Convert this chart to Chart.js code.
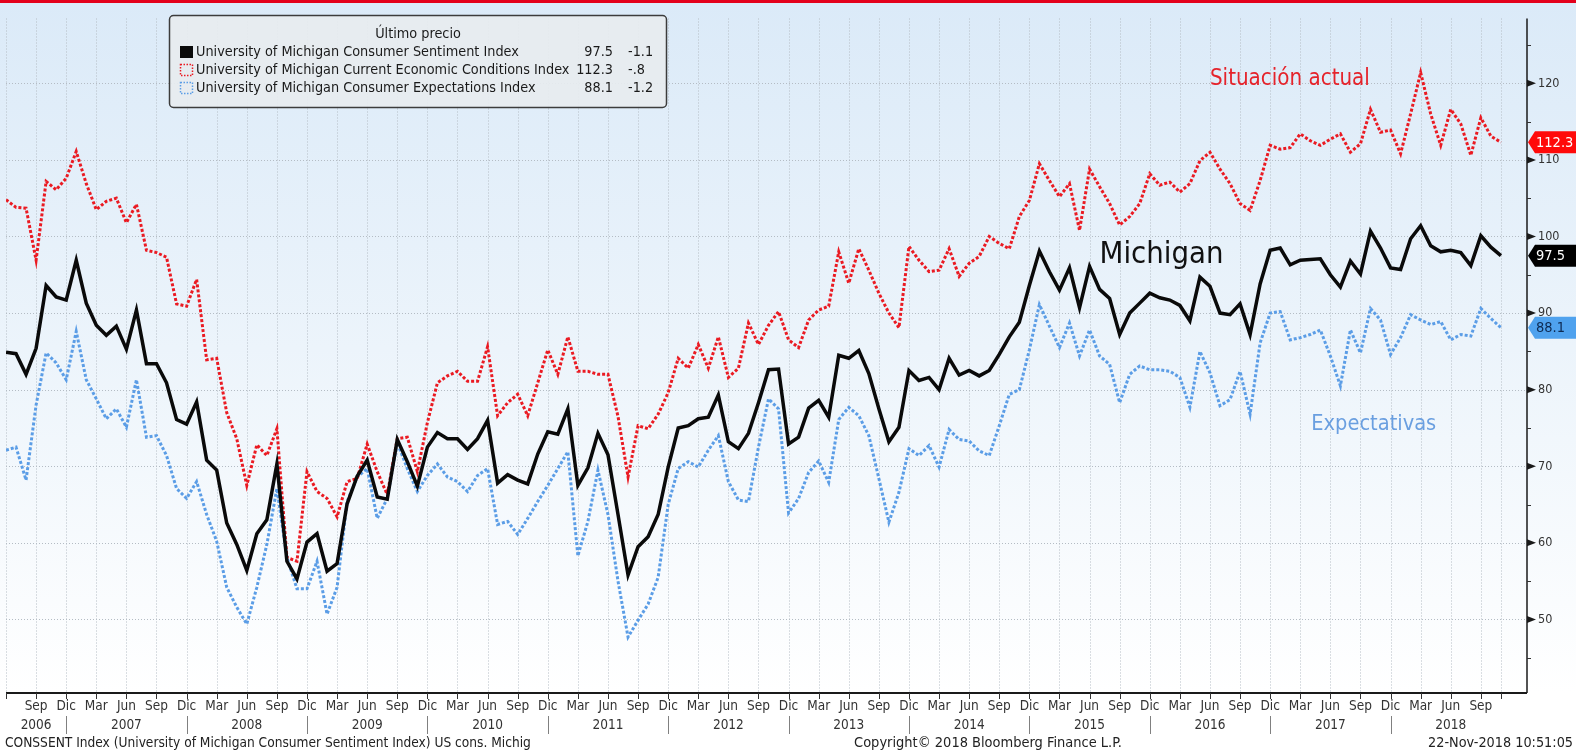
<!DOCTYPE html>
<html lang="es">
<head>
<meta charset="UTF-8">
<title>University of Michigan Consumer Sentiment</title>
<script src="https://cdn.jsdelivr.net/npm/chart.js@4"></script>
<style>
  html, body { margin: 0; padding: 0; background: #fff; }
  #wrap { width: 1576px; height: 751px; }
</style>
</head>
<body>
<div id="wrap"><canvas id="chart" width="1576" height="751"></canvas></div>
<script>
// monthly readings, Jun 2006 .. Nov 2018
const startYear = 2006;
const startMonth = 5; // junio (0 = enero)
const monthNames = ['Ene', 'Feb', 'Mar', 'Abr', 'May', 'Jun', 'Jul', 'Ago', 'Sep', 'Oct', 'Nov', 'Dic'];
const tickMonths = ['Sep', 'Dic', 'Mar', 'Jun'];
const years = [2006, 2007, 2008, 2009, 2010, 2011, 2012, 2013, 2014, 2015, 2016, 2017, 2018];

const sentiment = [
  84.9, 84.7, 82.0, 85.4, 93.6, 92.1, 91.7,
  96.9, 91.3, 88.4, 87.1, 88.3, 85.3, 90.4, 83.4, 83.4, 80.9, 76.1, 75.5,
  78.4, 70.8, 69.5, 62.6, 59.8, 56.4, 61.2, 63.0, 70.3, 57.6, 55.3, 60.1,
  61.2, 56.3, 57.3, 65.1, 68.7, 70.8, 66.0, 65.7, 73.5, 70.6, 67.4, 72.5,
  74.4, 73.6, 73.6, 72.2, 73.6, 76.0, 67.8, 68.9, 68.2, 67.7, 71.6, 74.5,
  74.2, 77.5, 67.5, 69.8, 74.3, 71.5, 63.7, 55.8, 59.5, 60.8, 63.7, 69.9,
  75.0, 75.3, 76.2, 76.4, 79.3, 73.2, 72.3, 74.3, 78.3, 82.6, 82.7, 72.9,
  73.8, 77.6, 78.6, 76.4, 84.5, 84.1, 85.1, 82.1, 77.5, 73.2, 75.1, 82.5,
  81.2, 81.6, 80.0, 84.1, 81.9, 82.5, 81.8, 82.5, 84.6, 86.9, 88.8, 93.6,
  98.1, 95.4, 93.0, 95.9, 90.7, 96.1, 93.1, 91.9, 87.2, 90.0, 91.3, 92.6,
  92.0, 91.7, 91.0, 89.0, 94.7, 93.5, 90.0, 89.8, 91.2, 87.2, 93.8, 98.2,
  98.5, 96.3, 96.9, 97.0, 97.1, 95.0, 93.4, 96.8, 95.1, 100.7, 98.5, 95.9,
  95.7, 99.7, 101.4, 98.8, 98.0, 98.2, 97.9, 96.2, 100.1, 98.6, 97.5
];

const currentCond = [
  104.8, 103.8, 103.7, 96.9, 107.2, 106.1, 107.6,
  111.1, 106.9, 103.5, 104.6, 105.0, 101.8, 104.2, 98.2, 97.9, 97.3, 91.2, 90.9,
  94.4, 83.9, 84.1, 77.0, 73.6, 67.5, 72.8, 71.4, 74.9, 58.1, 57.6, 69.3,
  66.7, 65.8, 63.4, 68.0, 68.4, 72.9, 69.3, 66.3, 73.6, 73.8, 69.3, 75.7,
  80.9, 81.8, 82.4, 81.1, 81.1, 85.6, 76.6, 78.3, 79.4, 76.6, 80.9, 85.2,
  82.0, 86.9, 82.4, 82.4, 82.0, 82.0, 76.5, 68.6, 75.3, 74.9, 76.8, 79.6,
  84.1, 82.8, 85.9, 82.8, 86.9, 81.6, 82.8, 88.7, 85.9, 88.4, 90.2, 86.5,
  85.5, 89.1, 90.4, 90.9, 98.0, 93.9, 98.4, 95.6, 92.6, 90.0, 88.1, 98.7,
  96.9, 95.4, 95.6, 98.4, 94.8, 96.5, 97.4, 100.0, 99.1, 98.4, 102.6, 104.7,
  109.5, 107.3, 105.2, 106.9, 100.8, 108.8, 106.5, 104.3, 101.5, 102.6, 104.3, 108.2,
  106.7, 107.1, 105.8, 106.9, 109.9, 111.0, 108.8, 106.9, 104.3, 103.4, 107.3, 111.9,
  111.4, 111.6, 113.4, 112.5, 111.9, 112.7, 113.4, 111.0, 112.1, 116.6, 113.6, 113.9,
  110.8, 116.0, 121.4, 116.0, 111.9, 116.6, 114.7, 110.6, 115.5, 113.1, 112.3
];

const expectations = [
  72.1, 72.5, 68.2, 78.0, 84.8, 83.5, 81.3,
  87.6, 81.3, 78.8, 76.2, 77.5, 75.1, 81.3, 73.8, 74.0, 71.4, 67.1, 65.8,
  68.0, 63.7, 60.2, 54.2, 51.6, 49.4, 54.2, 59.8, 67.1, 58.1, 54.0, 54.0,
  57.6, 50.7, 54.2, 65.4, 68.6, 69.7, 63.2, 65.8, 73.1, 69.7, 66.7, 68.8,
  70.3, 68.6, 68.0, 66.7, 68.8, 69.7, 62.4, 62.8, 61.1, 63.2, 65.4, 67.5,
  69.7, 71.9, 58.3, 62.8, 69.5, 63.7, 55.0, 47.7, 49.9, 52.0, 55.5, 65.0,
  69.7, 70.6, 69.9, 72.1, 74.0, 68.0, 65.6, 65.4, 72.5, 78.8, 77.5, 63.9,
  65.8, 69.2, 70.7, 67.9, 76.1, 77.7, 76.6, 74.0, 68.4, 62.7, 66.6, 72.3,
  71.4, 72.7, 69.9, 74.8, 73.5, 73.3, 72.0, 71.4, 75.3, 79.4, 80.0, 85.2,
  91.1, 88.3, 85.5, 88.7, 84.4, 87.8, 84.4, 83.3, 78.3, 82.0, 83.1, 82.6,
  82.6, 82.4, 81.6, 77.7, 85.0, 82.2, 77.9, 78.7, 82.4, 76.8, 86.1, 90.0,
  90.2, 86.5, 86.8, 87.2, 87.8, 84.4, 80.5, 87.8, 84.8, 90.6, 89.1, 84.6,
  86.8, 89.8, 89.1, 88.5, 88.9, 86.5, 87.2, 87.0, 90.6, 89.3, 88.1
];

// legend table
const seriesNames = [
  'University of Michigan Consumer Sentiment Index',
  'University of Michigan Current Economic Conditions Index',
  'University of Michigan Consumer Expectations Index'
];
const lastPrice = ['97.5', '112.3', '88.1'];
const netChange = ['-1.1', '-.8', '-1.2'];
const colors = ['#0a0a0a', '#ea1a22', '#5b9de6'];

const FONT = '"DejaVu Sans Condensed", "DejaVu Sans", sans-serif';
const lastIdx = sentiment.length - 1;

function fitSize(ctx, text, width) {
  ctx.font = '100px ' + FONT;
  return 100 * width / ctx.measureText(text).width;
}

// quarter ticks (Sep, Dic, Mar, Jun) plus the last reading
const tickIdx = [];
for (let i = 0; i <= lastIdx; i++) {
  if (tickMonths.includes(monthNames[(startMonth + i) % 12])) tickIdx.push(i);
}
tickIdx.push(lastIdx);

function decIndex(year) {
  return (year - startYear) * 12 + (11 - startMonth);
}

const bbg = {
  id: 'bbg',
  beforeDraw(chart) {
    const {ctx, chartArea: a, width, height} = chart;
    const xs = chart.scales.x, ys = chart.scales.y;
    ctx.save();
    ctx.fillStyle = '#fff';
    ctx.fillRect(0, 0, width, height);
    const g = ctx.createLinearGradient(0, 3, 0, a.bottom);
    g.addColorStop(0, '#dbeaf8');
    g.addColorStop(0.5, '#ecf4fb');
    g.addColorStop(1, '#ffffff');
    ctx.fillStyle = g;
    ctx.fillRect(0, 3, width, a.bottom - 3);
    ctx.fillStyle = '#e3001b';
    ctx.fillRect(0, 0, width, 3);

    // dotted grid
    ctx.strokeStyle = '#b4bcc4';
    ctx.lineWidth = 1;
    ctx.setLineDash([1, 2]);
    tickIdx.forEach(v => {
      const px = Math.round(xs.getPixelForValue(v)) + 0.5;
      ctx.beginPath();
      ctx.moveTo(px, a.top);
      ctx.lineTo(px, a.bottom);
      ctx.stroke();
    });
    ys.ticks.forEach(t => {
      if (t.value % 10 !== 0) return;
      const py = Math.round(ys.getPixelForValue(t.value)) + 0.5;
      ctx.beginPath();
      ctx.moveTo(a.left, py);
      ctx.lineTo(a.right, py);
      ctx.stroke();
    });
    ctx.restore();
  },
  afterDraw(chart) {
    const {ctx, chartArea: a, width} = chart;
    const xs = chart.scales.x, ys = chart.scales.y;
    ctx.save();

    // axes
    ctx.strokeStyle = '#1a1a1a';
    ctx.lineWidth = 2;
    ctx.beginPath();
    ctx.moveTo(a.left, a.bottom);
    ctx.lineTo(a.right, a.bottom);
    ctx.stroke();
    ctx.lineWidth = 1.5;
    ctx.beginPath();
    ctx.moveTo(a.right, a.top);
    ctx.lineTo(a.right, a.bottom);
    ctx.stroke();

    ctx.lineWidth = 1;
    ctx.strokeStyle = '#333';
    tickIdx.forEach(v => {
      const px = Math.round(xs.getPixelForValue(v)) + 0.5;
      ctx.beginPath();
      ctx.moveTo(px, a.bottom);
      ctx.lineTo(px, a.bottom + 6);
      ctx.stroke();
    });
    ctx.fillStyle = '#1a1a1a';
    ys.ticks.forEach(t => {
      const py = ys.getPixelForValue(t.value);
      if (t.value % 10 === 0) {
        ctx.beginPath();
        ctx.moveTo(a.right, py - 3.5);
        ctx.lineTo(a.right + 9, py);
        ctx.lineTo(a.right, py + 3.5);
        ctx.closePath();
        ctx.fill();
      } else {
        ctx.beginPath();
        ctx.moveTo(a.right, Math.round(py) + 0.5);
        ctx.lineTo(a.right + 4, Math.round(py) + 0.5);
        ctx.stroke();
      }
    });

    // year row
    ctx.font = '13.5px ' + FONT;
    ctx.fillStyle = '#333';
    ctx.textAlign = 'center';
    ctx.textBaseline = 'middle';
    years.forEach(y => {
      const x0 = Math.max(a.left, xs.getPixelForValue(decIndex(y - 1)));
      const x1 = Math.min(a.right, xs.getPixelForValue(decIndex(y)));
      ctx.fillText(String(y), (x0 + x1) / 2, 725);
    });
    ctx.strokeStyle = '#808080';
    years.slice(0, -1).forEach(y => {
      const px = Math.round(xs.getPixelForValue(decIndex(y))) + 0.5;
      ctx.beginPath();
      ctx.moveTo(px, 716);
      ctx.lineTo(px, 734);
      ctx.stroke();
    });

    // footer
    const footL = 'CONSSENT Index (University of Michigan Consumer Sentiment Index) US cons. Michig';
    const footC = 'Copyright\u00a9 2018 Bloomberg Finance L.P.';
    const footR = '22-Nov-2018 10:51:05';
    ctx.fillStyle = '#222';
    ctx.font = fitSize(ctx, footL, 526) + 'px ' + FONT;
    ctx.textAlign = 'left';
    ctx.fillText(footL, 5, 743);
    ctx.font = fitSize(ctx, footC, 268) + 'px ' + FONT;
    ctx.textAlign = 'center';
    ctx.fillText(footC, 988, 743);
    ctx.font = fitSize(ctx, footR, 145) + 'px ' + FONT;
    ctx.textAlign = 'right';
    ctx.fillText(footR, 1573, 743);

    // last price tags
    const tags = [
      {v: currentCond[lastIdx], fill: '#ff0a0a', text: '#fff'},
      {v: sentiment[lastIdx], fill: '#000', text: '#fff'},
      {v: expectations[lastIdx], fill: '#4fa2ee', text: '#0d2a52'}
    ];
    ctx.font = '14.5px ' + FONT;
    ctx.textAlign = 'left';
    ctx.textBaseline = 'middle';
    tags.forEach(t => {
      const py = ys.getPixelForValue(t.v);
      ctx.beginPath();
      ctx.moveTo(a.right + 1, py);
      ctx.lineTo(a.right + 8, py - 11);
      ctx.lineTo(width, py - 11);
      ctx.lineTo(width, py + 11);
      ctx.lineTo(a.right + 8, py + 11);
      ctx.closePath();
      ctx.fillStyle = t.fill;
      ctx.fill();
      ctx.fillStyle = t.text;
      ctx.fillText(t.v.toFixed(1), a.right + 9, py + 1);
    });

    // in-chart labels, anchored on the scales
    const note = (text, idx, val, color, w) => {
      const s = fitSize(ctx, text, w);
      ctx.font = s + 'px ' + FONT;
      ctx.fillStyle = color;
      ctx.textAlign = 'left';
      ctx.textBaseline = 'alphabetic';
      ctx.fillText(text, xs.getPixelForValue(idx), ys.getPixelForValue(val));
    };
    note('Situaci\u00f3n actual', 120.0, 119.8, '#e5232b', 160);
    note('Michigan', 109.0, 96.6, '#111', 124);
    note('Expectativas', 130.1, 74.8, '#6a9fe0', 125);

    // legend box
    ctx.beginPath();
    ctx.roundRect(169.5, 15.5, 497, 92, 4);
    ctx.fillStyle = 'rgba(231,235,239,0.92)';
    ctx.fill();
    ctx.strokeStyle = '#3c3c3c';
    ctx.lineWidth = 1.5;
    ctx.stroke();

    const ls = fitSize(ctx, seriesNames[1], 374);
    ctx.font = ls + 'px ' + FONT;
    ctx.fillStyle = '#1a1a1a';
    ctx.textBaseline = 'middle';
    ctx.textAlign = 'center';
    ctx.fillText('\u00daltimo precio', 418, 34);
    const rowY = [52, 70, 88];
    seriesNames.forEach((name, k) => {
      const y = rowY[k];
      if (k === 0) {
        ctx.fillStyle = colors[0];
        ctx.fillRect(180, y - 6, 13, 12);
      } else {
        ctx.setLineDash([1.5, 1.5]);
        ctx.strokeStyle = colors[k];
        ctx.lineWidth = 1.5;
        ctx.strokeRect(180.5, y - 5.5, 12, 11);
        ctx.setLineDash([]);
      }
      ctx.fillStyle = '#1a1a1a';
      ctx.textAlign = 'left';
      ctx.fillText(name, 196, y);
      ctx.textAlign = 'right';
      ctx.fillText(lastPrice[k], 613, y);
      ctx.textAlign = 'left';
      ctx.fillText(netChange[k], 628, y);
    });
    ctx.restore();
  }
};

const pts = arr => arr.map((v, i) => ({x: i, y: v}));

new Chart(document.getElementById('chart'), {
  type: 'line',
  data: {
    datasets: [
      {
        label: seriesNames[0],
        data: pts(sentiment),
        borderColor: colors[0],
        borderWidth: 3.5,
        pointRadius: 0,
        tension: 0
      },
      {
        label: seriesNames[1],
        data: pts(currentCond),
        borderColor: colors[1],
        borderWidth: 3,
        borderDash: [3, 2],
        borderCapStyle: 'butt',
        pointRadius: 0,
        tension: 0
      },
      {
        label: seriesNames[2],
        data: pts(expectations),
        borderColor: colors[2],
        borderWidth: 3,
        borderDash: [3, 2],
        borderCapStyle: 'butt',
        pointRadius: 0,
        tension: 0
      }
    ]
  },
  options: {
    responsive: false,
    animation: false,
    devicePixelRatio: 1,
    layout: { padding: { left: 6, top: 13, right: 0, bottom: 0 } },
    plugins: {
      legend: { display: false },
      tooltip: { enabled: false }
    },
    scales: {
      x: {
        type: 'linear',
        position: 'bottom',
        min: 0,
        max: 151.6,
        grid: { display: false, drawTicks: false },
        border: { display: false },
        afterBuildTicks: s => { s.ticks = tickIdx.map(v => ({value: v})); },
        afterFit: s => { s.height = 58; },
        ticks: {
          autoSkip: false,
          maxRotation: 0,
          minRotation: 0,
          padding: 5,
          color: '#333',
          font: { family: FONT, size: 13.5 },
          callback: v => (v === 0 || v === lastIdx) ? '' : monthNames[(startMonth + v) % 12]
        }
      },
      y: {
        position: 'right',
        min: 40.4,
        max: 128.46,
        grid: { display: false, drawTicks: false },
        border: { display: false },
        afterFit: s => { s.width = 49; },
        ticks: {
          stepSize: 5,
          includeBounds: false,
          padding: 11,
          color: '#333',
          font: { family: FONT, size: 12.5 },
          callback: v => v % 10 === 0 ? v : ''
        }
      }
    }
  },
  plugins: [bbg]
});
</script>
</body>
</html>
